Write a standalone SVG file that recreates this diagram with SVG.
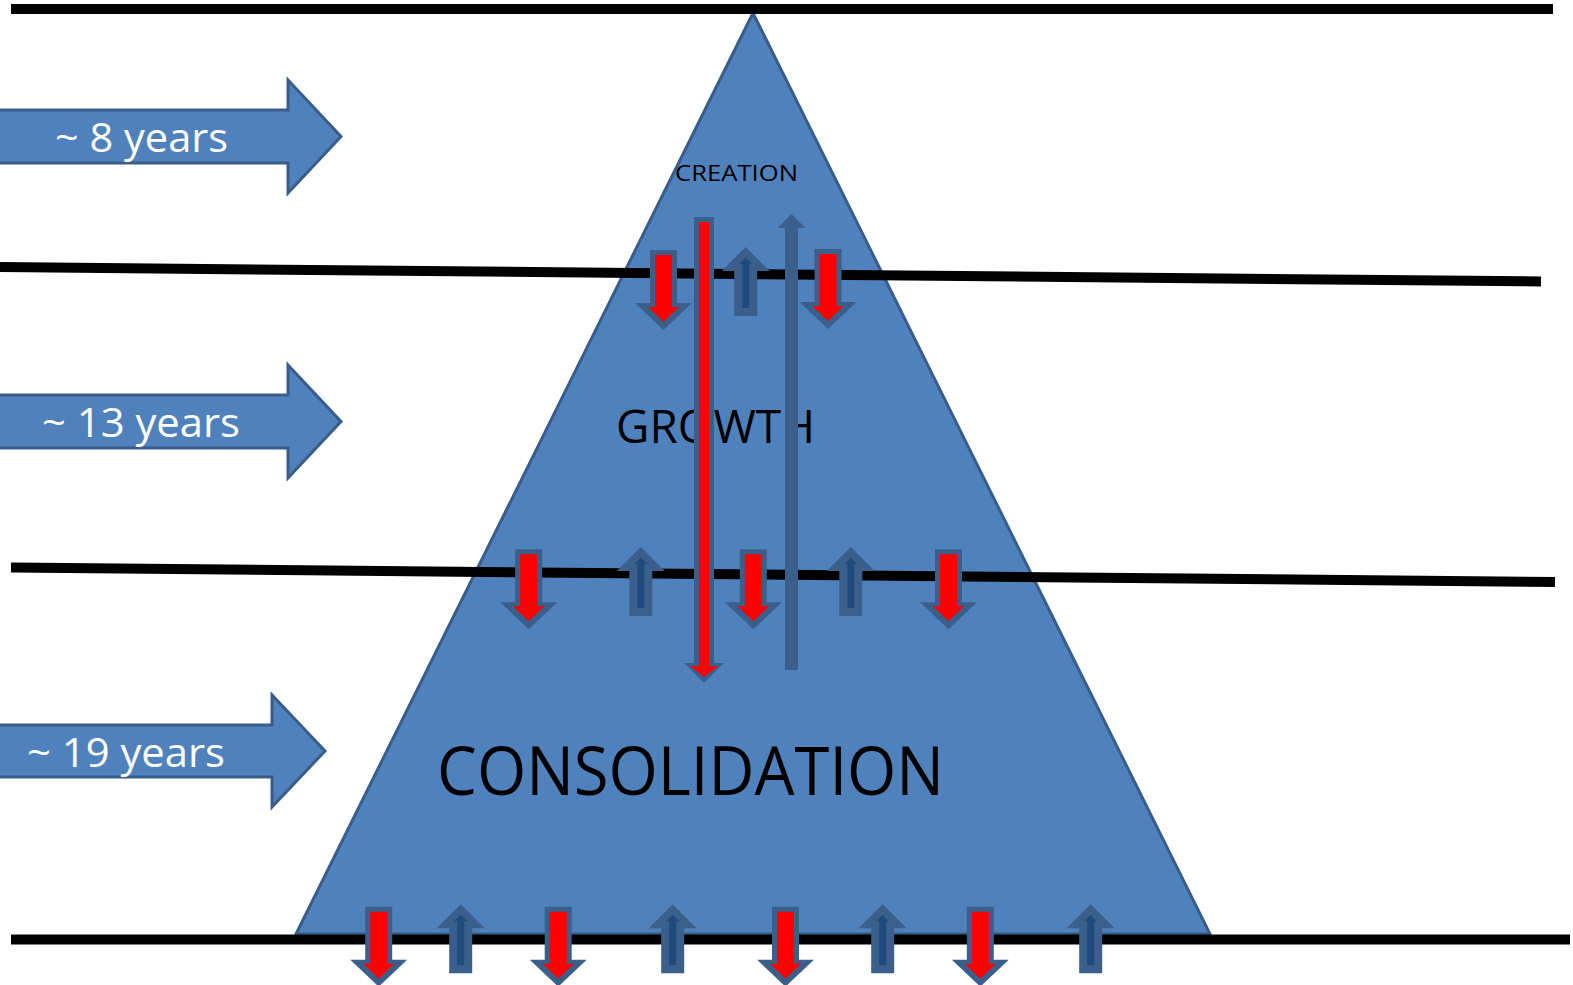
<svg xmlns="http://www.w3.org/2000/svg" width="1573" height="985" viewBox="0 0 1573 985">
<defs>
<style>
.tri{fill:#4F81BD;stroke:#385D8A;stroke-width:3}
.side{fill:#4F81BD;stroke:#385D8A;stroke-width:3}
.line{stroke:#000;stroke-width:10;fill:none}
.lbl{font-family:"Open Sans","Liberation Sans",sans-serif;fill:#fff;font-size:40px}
.stage{font-family:"Open Sans","Liberation Sans",sans-serif;fill:#000}
.ro{fill:#3A5F8B}
.ri{fill:#FF0000}
.bi{fill:#1F4A7E}
</style>
<g id="down">
<path class="ro" d="M-13.5,0 H13.5 V53 H28.5 L0,80 L-28.5,53 H-13.5 Z"/>
<path class="ri" d="M-8.5,5 H8.5 V57 H15.5 L0,72 L-15.5,57 H-8.5 Z"/>
</g>
<g id="up">
<path class="ro" d="M-11.5,0 V-45 H-24 L0,-69 L24,-45 H11.5 V0 Z"/>
<path class="bi" d="M-3.5,-8 V-52 H-6.5 L0,-58.5 L6.5,-52 H3.5 V-8 Z"/>
</g>
</defs>
<rect width="1573" height="985" fill="#fff"/>
<g id="pyramid">
<polygon class="tri" points="753,13 296,934 1210,934"/>
</g>
<g id="stage-creation"><text class="stage" x="675" y="181" font-size="22" textLength="123" lengthAdjust="spacingAndGlyphs">CREATION</text></g>
<g id="stage-growth"><text class="stage" x="616" y="443" font-size="46" textLength="199" lengthAdjust="spacingAndGlyphs">GROWTH</text></g>
<g id="stage-consolidation"><text class="stage" x="437" y="795" font-size="68" textLength="507" lengthAdjust="spacingAndGlyphs">CONSOLIDATION</text></g>
<g id="side-8">
<path class="side" d="M-5,110 H288 V80 L341,136.5 L288,193 V163 H-5 Z"/>
<text class="lbl" x="55" y="152" textLength="173" lengthAdjust="spacingAndGlyphs">~ 8 years</text>
</g>
<g id="side-13">
<path class="side" d="M-5,395 H288 V365 L341,421.5 L288,478 V448 H-5 Z"/>
<text class="lbl" x="42" y="437" textLength="198" lengthAdjust="spacingAndGlyphs">~ 13 years</text>
</g>
<g id="side-19">
<path class="side" d="M-5,725 H272 V695 L325,751 L272,807 V777 H-5 Z"/>
<text class="lbl" x="27" y="766.5" textLength="198" lengthAdjust="spacingAndGlyphs">~ 19 years</text>
</g>
<g id="lines">
<line class="line" x1="11" y1="9" x2="1553" y2="9"/>
<line class="line" x1="0" y1="267" x2="1541" y2="281.5"/>
<line class="line" x1="11" y1="567.5" x2="1555" y2="582"/>
<line class="line" x1="11" y1="939.5" x2="1570" y2="939.5"/>
</g>
<g id="connectors">
<g id="long-down">
<path class="ro" d="M694,217 H714 V663 H724 L704,683 L684,663 H694 Z"/>
<path class="ri" d="M699,222 H709 V666 H718 L704,677 L690,666 H699 Z"/>
</g>
<g id="long-up">
<path class="ro" d="M785,670 V228 H777.5 L791.5,214 L805.5,228 H798 V670 Z"/>
</g>
<use href="#down" x="663.5" y="250"/>
<use href="#up" x="745.7" y="316"/>
<use href="#down" x="828" y="249"/>
<use href="#down" x="528.7" y="549.3"/>
<use href="#up" x="640.8" y="616"/>
<use href="#down" x="753.3" y="549.3"/>
<use href="#up" x="850.8" y="616"/>
<use href="#down" x="948.5" y="549.3"/>
<use href="#down" x="378.7" y="906.7"/>
<use href="#up" x="460.7" y="973.3"/>
<use href="#down" x="558.2" y="906.7"/>
<use href="#up" x="672.7" y="973.3"/>
<use href="#down" x="785.5" y="906.7"/>
<use href="#up" x="882.7" y="973.3"/>
<use href="#down" x="980.3" y="906.7"/>
<use href="#up" x="1090.7" y="973.3"/>
</g>
</svg>
